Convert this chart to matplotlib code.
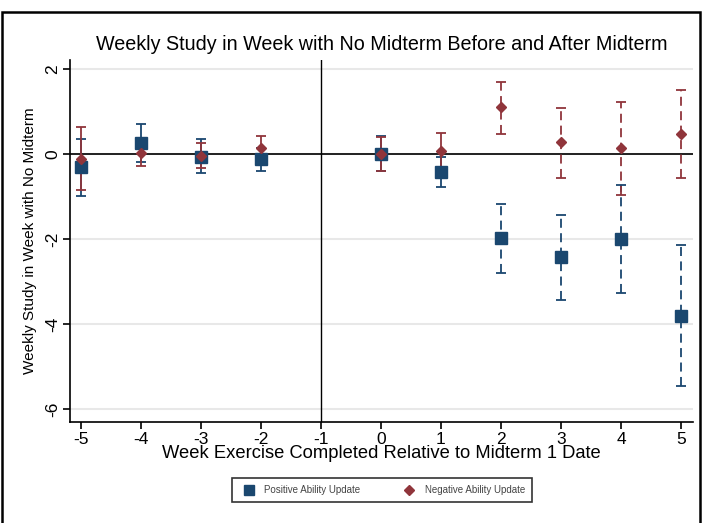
import matplotlib
matplotlib.use("Agg")
import matplotlib.pyplot as plt
from matplotlib.patches import Rectangle
from matplotlib.lines import Line2D

plt.rcParams['font.family'] = ['Liberation Sans', 'DejaVu Sans']
plt.rcParams['axes.unicode_minus'] = False

weeks = [-5, -4, -3, -2, 0, 1, 2, 3, 4, 5]

# Positive ability update (blue squares)
pos_est = [-0.31, 0.26, -0.07, -0.12, 0.00, -0.42, -1.97, -2.42, -2.00, -3.80]
pos_lo = [-0.98, -0.19, -0.45, -0.40, -0.40, -0.77, -2.79, -3.44, -3.26, -5.45]
pos_hi = [0.36, 0.71, 0.36, 0.15, 0.43, -0.07, -1.18, -1.42, -0.72, -2.13]

# Negative ability update (red diamonds)
neg_est = [-0.12, 0.02, -0.03, 0.16, 0.00, 0.08, 1.12, 0.30, 0.16, 0.49]
neg_lo = [-0.85, -0.28, -0.33, -0.10, -0.40, -0.33, 0.48, -0.56, -0.96, -0.56]
neg_hi = [0.64, 0.32, 0.26, 0.43, 0.40, 0.50, 1.71, 1.08, 1.23, 1.51]

blue = '#1a476f'
red = '#90353b'

fig = plt.figure(figsize=(7.03, 5.23), dpi=100)
ax = fig.add_axes([70 / 703, 1 - 422 / 523, 623 / 703, 362 / 523])


def draw(est, lo, hi, color, marker, ms):
    for w, e, l, h in zip(weeks, est, lo, hi):
        dashed = w >= 2
        eb = ax.errorbar(w, e, yerr=[[e - l], [h - e]], fmt='none',
                         ecolor=color, elinewidth=1.3, capsize=3.5,
                         capthick=1.3, zorder=3)
        eb[2][0].set_linestyle((0, (5, 3)) if dashed else '-')
    ax.plot(weeks, est, linestyle='none', marker=marker, ms=ms,
            color=color, zorder=4)


draw(pos_est, pos_lo, pos_hi, blue, 's', 8.5)
draw(neg_est, neg_lo, neg_hi, red, 'D', 5.5)

ax.axhline(0, color='black', lw=1.2, zorder=2)
ax.axvline(-1, color='black', lw=1.0, zorder=2)

ax.set_xlim(-5.18, 5.2)
ax.set_ylim(-6.3, 2.22)
ax.set_xticks(range(-5, 6))
ax.set_yticks([-6, -4, -2, 0, 2])
ax.yaxis.grid(True, color='#e8e8e8', lw=1.5)
ax.set_axisbelow(True)
for s in ['top', 'right']:
    ax.spines[s].set_visible(False)
for s in ['left', 'bottom']:
    ax.spines[s].set_linewidth(1.2)
ax.tick_params(axis='both', labelsize=12.5, length=5, width=1.2, pad=2)
for lab in ax.get_yticklabels():
    lab.set_rotation(90)
    lab.set_va('center')

ax.set_xlabel('Week Exercise Completed Relative to Midterm 1 Date',
              fontsize=13.2, labelpad=-1)
ax.set_ylabel('Weekly Study in Week with No Midterm', fontsize=11,
              labelpad=6)
fig.text(382 / 703, 1 - 45 / 523,
         'Weekly Study in Week with No Midterm Before and After Midterm',
         ha='center', va='center', fontsize=14.2)

handles = [
    Line2D([], [], linestyle='none', marker='s', ms=7, color=blue),
    Line2D([], [], linestyle='none', marker='D', ms=5, color=red),
]
leg = fig.legend(handles, ['Positive Ability Update', 'Negative Ability Update'],
                 loc='center', bbox_to_anchor=(382 / 703, 1 - 490 / 523),
                 ncol=2, fontsize=7, frameon=True, fancybox=False,
                 edgecolor='black', handletextpad=0.6, columnspacing=4,
                 borderpad=0.7)
leg.get_frame().set_linewidth(1.2)
for t in leg.get_texts():
    t.set_color('#444444')

fig.add_artist(Rectangle((2 / 703, -0.05), 698 / 703, 1.05 - 12 / 523,
                         transform=fig.transFigure, fill=False,
                         edgecolor='black', lw=1.8))

fig.savefig('out.png', dpi=100)
